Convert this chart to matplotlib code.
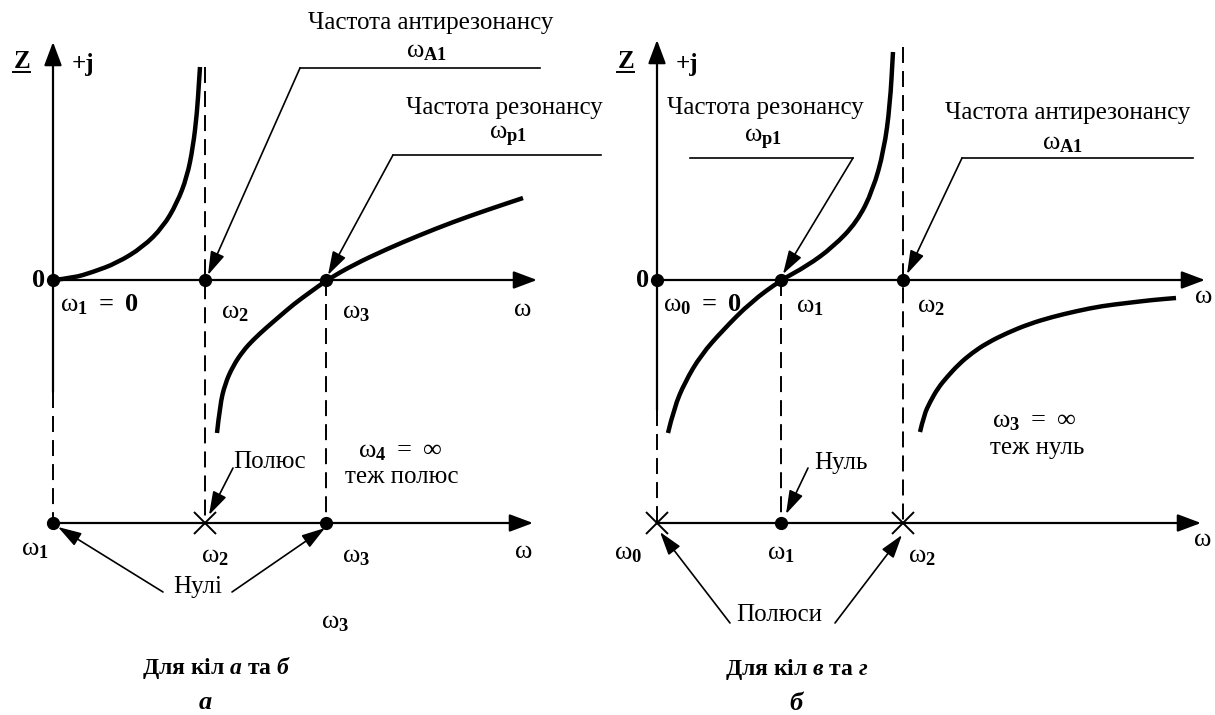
import matplotlib.pyplot as plt
from matplotlib.path import Path
from matplotlib.patches import PathPatch

plt.rcParams['font.family'] = 'Liberation Serif'
plt.rcParams['mathtext.fontset'] = 'custom'
plt.rcParams['mathtext.rm'] = 'Liberation Serif'
plt.rcParams['mathtext.bf'] = 'Liberation Serif:bold'
plt.rcParams['mathtext.it'] = 'Liberation Serif:italic:bold'
plt.rcParams['lines.scale_dashes'] = False

# characteristic frequencies on the ω axis (arbitrary units, ω = 0 at the origin)
omega_a = [0, 152, 273]          # ω1 = 0, ω2, ω3
kind_a = ['zero', 'pole', 'zero']
omega_b = [0, 124, 246]          # ω0 = 0, ω1, ω2
kind_b = ['pole', 'zero', 'pole']

# reactance branches Z(ω), circuits a and б
a1_w = [0, 20, 40, 64, 90, 110, 124, 134, 140, 144, 146, 147]
a1_z = [0, 2, 8, 17, 33, 53, 77, 103, 133, 167, 198, 213]
a2_w = [164, 167, 172, 180, 190, 200, 213, 227, 241, 256, 274, 300, 334, 367, 400, 434, 470]
a2_z = [-153, -125, -104, -86, -71, -60, -48, -36, -24, -13, 0, 15, 31, 45, 58, 70, 82]

# reactance branches Z(ω), circuits в and г
b1_w = [11, 17, 28, 44, 66, 94, 124, 150, 176, 200, 216, 227, 233, 236]
b1_z = [-153, -128, -102, -75, -50, -22, 0, 14, 33, 58, 90, 130, 175, 228]
b2_w = [263, 267, 273, 281, 290, 302, 315, 330, 350, 372, 395, 420, 445, 470, 495, 519]
b2_z = [-152, -135, -122, -108, -97, -84, -73, -63, -53, -44, -37, -31, -26, -23, -20, -18]

FS = 18
WFS = 19
axis_arrow = dict(arrowstyle='-|>,head_length=0.8,head_width=0.3', mutation_scale=18,
                  lw=1.6, color='black', shrinkA=0, shrinkB=0)
ptr_arrow = dict(arrowstyle='-|>,head_length=0.9,head_width=0.28', mutation_scale=16,
                 lw=1.2, color='black', shrinkA=0, shrinkB=0)
dash = (0, (11.5, 5.8))


def w(sub, tail=''):
    return r'$\mathrm{\omega}_{\mathbf{%s}}%s$' % (sub, tail)


def branch(ax, ws, zs):
    # smooth quadratic curve through the read points (points act as control points)
    pts = list(zip(ws, zs))
    verts = [pts[0]]
    codes = [Path.MOVETO]
    for i in range(1, len(pts) - 1):
        mid = ((pts[i][0] + pts[i + 1][0]) / 2, (pts[i][1] + pts[i + 1][1]) / 2)
        verts += [pts[i], mid]
        codes += [Path.CURVE3, Path.CURVE3]
    verts.append(pts[-1])
    codes.append(Path.LINETO)
    ax.add_patch(PathPatch(Path(verts, codes), fill=False, lw=3.2, edgecolor='black',
                           capstyle='butt', zorder=4))


def frame(ax, w_end, z_top, z_solid, pz):
    # Z axis, upper ω axis and the lower pole/zero axis
    ax.annotate('', xy=(0, z_top), xytext=(0, z_solid), arrowprops=axis_arrow)
    ax.annotate('', xy=(w_end, 0), xytext=(0, 0), arrowprops=axis_arrow)
    ax.annotate('', xy=(w_end - 4, pz), xytext=(0, pz), arrowprops=axis_arrow)
    ax.plot([0, 0], [z_solid, pz], color='black', lw=1.4, linestyle=dash)
    ax.text(-31, 219, 'Z', fontsize=FS, fontweight='bold', ha='center', va='center')
    ax.plot([-40, -23], [208, 208], color='black', lw=1.4)
    ax.text(30, 216, '+j', fontsize=FS, fontweight='bold', ha='center', va='center')
    ax.text(-14, -1, '0', fontsize=FS + 1, fontweight='bold', ha='center', va='center')


def marks(ax, omegas, kinds, pole_top, pz):
    for om, kd in zip(omegas[1:], kinds[1:]):
        top = pole_top if kd == 'pole' else 0
        ax.plot([om, om], [top, pz], color='black', lw=1.4, linestyle=dash)
    ax.plot(omegas, [0] * len(omegas), 'o', color='black', ms=8.5, zorder=5)
    for om, kd in zip(omegas, kinds):
        if kd == 'zero':
            ax.plot(om, pz, 'o', color='black', ms=8.5, zorder=5)
        else:
            ax.plot(om, pz, 'x', color='black', ms=16, mew=1.4, zorder=5)


def leader(ax, x_end, x_knee, y, tip):
    ax.plot([x_end, x_knee], [y, y], color='black', lw=1.2)
    ax.annotate('', xy=tip, xytext=(x_knee, y), arrowprops=ptr_arrow)


fig = plt.figure(figsize=(12.15, 7.15), dpi=100)
fig.patch.set_facecolor('white')
ax_a = fig.add_axes([0, 0, 0.5, 1])
ax_b = fig.add_axes([0.5, 0, 0.5, 1])
ax_a.set_xlim(-53, 554.5)
ax_b.set_xlim(-49.5, 558)
for ax in (ax_a, ax_b):
    ax.set_ylim(-435, 280)
    ax.axis('off')

pz = -243

# ---- a: circuits а and б ----
frame(ax_a, 484, 238, -112, pz)
marks(ax_a, omega_a, kind_a, 213, pz)
branch(ax_a, a1_w, a1_z)
branch(ax_a, a2_w, a2_z)

ax_a.text(378, 257, 'Частота антирезонансу', fontsize=FS, ha='center', va='center')
ax_a.text(374, 228, w('A1'), fontsize=WFS, ha='center', va='center')
leader(ax_a, 487, 247, 212, (155, 5))
ax_a.text(451, 172, 'Частота резонансу', fontsize=FS, ha='center', va='center')
ax_a.text(455, 144, w('p1'), fontsize=WFS, ha='center', va='center')
leader(ax_a, 548, 340, 125, (275, 5))

ax_a.text(7, -25, w('1', r'\ \mathbf{=\ 0}'), fontsize=WFS, ha='left', va='center')
ax_a.text(182, -33, w('2'), fontsize=WFS, ha='center', va='center')
ax_a.text(303, -33, w('3'), fontsize=WFS, ha='center', va='center')
ax_a.text(469, -30, r'$\mathrm{\omega}$', fontsize=WFS, ha='center', va='center')

ax_a.text(217, -182, 'Полюс', fontsize=FS, ha='center', va='center')
ax_a.annotate('', xy=(156, -235), xytext=(180, -188), arrowprops=ptr_arrow)
ax_a.text(347, -172, w('4', r'\ =\ \infty'), fontsize=WFS, ha='center', va='center')
ax_a.text(349, -197, 'теж полюс', fontsize=FS, ha='center', va='center')

ax_a.text(-18, -270, w('1'), fontsize=WFS, ha='center', va='center')
ax_a.text(162, -277, w('2'), fontsize=WFS, ha='center', va='center')
ax_a.text(303, -277, w('3'), fontsize=WFS, ha='center', va='center')
ax_a.text(470, -272, r'$\mathrm{\omega}$', fontsize=WFS, ha='center', va='center')
ax_a.text(145, -307, 'Нулі', fontsize=FS, ha='center', va='center')
ax_a.annotate('', xy=(5, -247), xytext=(110, -312), arrowprops=ptr_arrow)
ax_a.annotate('', xy=(272, -248), xytext=(179, -312), arrowprops=ptr_arrow)
ax_a.text(282, -343, w('3'), fontsize=WFS, ha='center', va='center')

ax_a.text(164, -388, r'Для кіл $\mathit{a}$ та $\mathit{б}$', fontsize=FS - 1,
          fontweight='bold', ha='center', va='center')
ax_a.text(152, -423, r'$\mathit{a}$', fontsize=FS + 1, ha='center', va='center')

# ---- б: circuits в and г ----
frame(ax_b, 548, 240, -130, pz)
marks(ax_b, omega_b, kind_b, 233, pz)
branch(ax_b, b1_w, b1_z)
branch(ax_b, b2_w, b2_z)

ax_b.text(108, 172, 'Частота резонансу', fontsize=FS, ha='center', va='center')
ax_b.text(106, 141, w('p1'), fontsize=WFS, ha='center', va='center')
leader(ax_b, 33, 196, 122, (126, 6))
ax_b.text(411, 167, 'Частота антирезонансу', fontsize=FS, ha='center', va='center')
ax_b.text(406, 136, w('A1'), fontsize=WFS, ha='center', va='center')
leader(ax_b, 536, 305, 122, (250, 6))

ax_b.text(6, -25, w('0', r'\ \mathbf{=\ 0}'), fontsize=WFS, ha='left', va='center')
ax_b.text(153, -27, w('1'), fontsize=WFS, ha='center', va='center')
ax_b.text(274, -27, w('2'), fontsize=WFS, ha='center', va='center')
ax_b.text(546, -17, r'$\mathrm{\omega}$', fontsize=WFS, ha='center', va='center')

ax_b.text(184, -183, 'Нуль', fontsize=FS, ha='center', va='center')
ax_b.annotate('', xy=(129, -234), xytext=(151, -188), arrowprops=ptr_arrow)
ax_b.text(377, -142, w('3', r'\ =\ \infty'), fontsize=WFS, ha='center', va='center')
ax_b.text(380, -168, 'теж нуль', fontsize=FS, ha='center', va='center')

ax_b.text(-29, -274, w('0'), fontsize=WFS, ha='center', va='center')
ax_b.text(124, -274, w('1'), fontsize=WFS, ha='center', va='center')
ax_b.text(265, -277, w('2'), fontsize=WFS, ha='center', va='center')
ax_b.text(545, -260, r'$\mathrm{\omega}$', fontsize=WFS, ha='center', va='center')
ax_b.text(122, -335, 'Полюси', fontsize=FS, ha='center', va='center')
ax_b.annotate('', xy=(3, -252), xytext=(73, -343), arrowprops=ptr_arrow)
ax_b.annotate('', xy=(245, -255), xytext=(178, -343), arrowprops=ptr_arrow)

ax_b.text(140, -389, r'Для кіл $\mathit{в}$ та $\mathit{г}$', fontsize=FS - 1,
          fontweight='bold', ha='center', va='center')
ax_b.text(140, -423, r'$\mathit{б}$', fontsize=FS + 1, ha='center', va='center')

fig.savefig('out.png', dpi=100, facecolor='white')
